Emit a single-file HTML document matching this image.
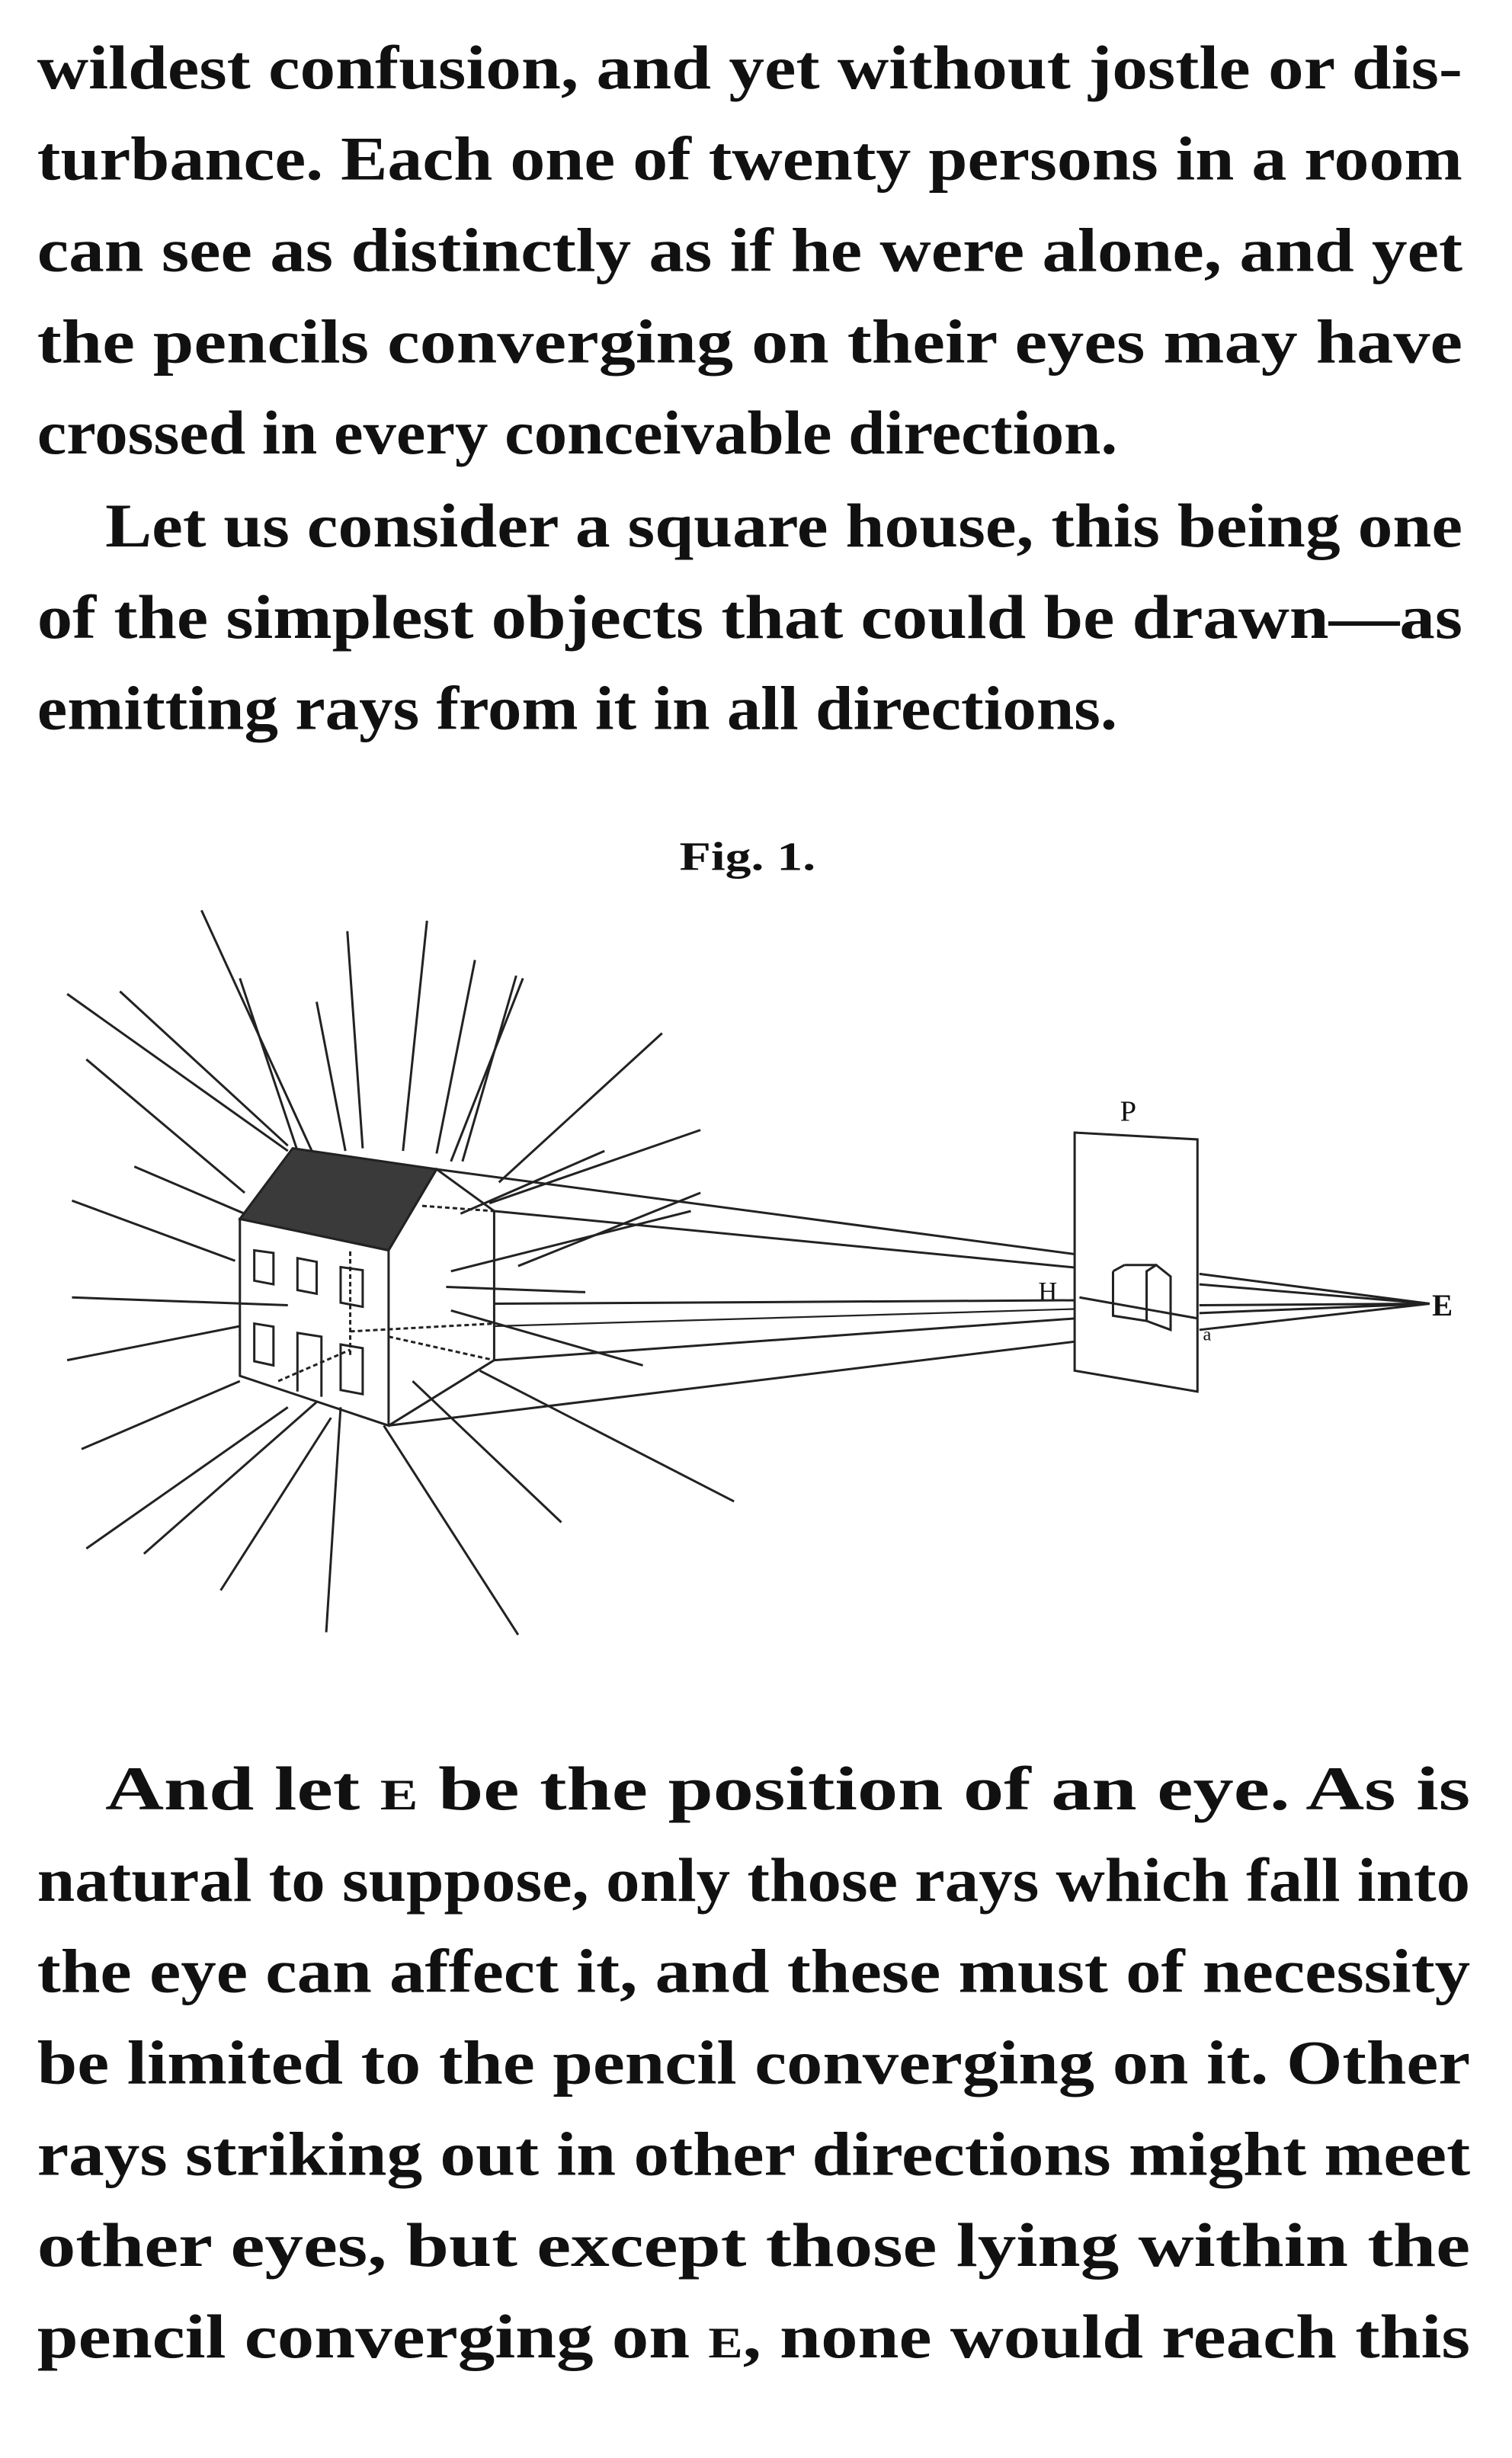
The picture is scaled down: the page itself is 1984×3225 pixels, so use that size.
<!DOCTYPE html>
<html><head><meta charset="utf-8"><style>
html,body{margin:0;padding:0;background:#fff;width:1984px;height:3225px;overflow:hidden}
svg{display:block}
text{font-family:"Liberation Serif",serif;font-weight:bold;fill:#111}
.f line,.f polyline,.f polygon,.f rect{vector-effect:non-scaling-stroke;stroke:#222;stroke-width:3;fill:none}
.f .d{stroke-dasharray:6 4}
.f .t{stroke-width:2.2}
</style></head><body>
<svg width="1984" height="3225" viewBox="0 0 977 1588" xmlns="http://www.w3.org/2000/svg">
<g font-size="40">
<text x="24" y="57" textLength="921" lengthAdjust="spacingAndGlyphs">wildest  confusion, and  yet without  jostle  or  dis-</text>
<text x="24" y="116" textLength="921" lengthAdjust="spacingAndGlyphs">turbance.   Each one of twenty persons  in a room</text>
<text x="24" y="175" textLength="921" lengthAdjust="spacingAndGlyphs">can see as distinctly as if  he were  alone, and  yet</text>
<text x="24" y="234" textLength="921" lengthAdjust="spacingAndGlyphs">the  pencils  converging  on  their  eyes  may  have</text>
<text x="24" y="293" textLength="698" lengthAdjust="spacingAndGlyphs">crossed in every conceivable direction.</text>
<text x="68" y="353" textLength="877" lengthAdjust="spacingAndGlyphs">Let us  consider a  square  house, this  being  one</text>
<text x="24" y="412" textLength="921" lengthAdjust="spacingAndGlyphs">of  the simplest  objects  that  could  be  drawn—as</text>
<text x="24" y="471" textLength="698" lengthAdjust="spacingAndGlyphs">emitting rays from it in all directions.</text>

<text x="68" y="1169" textLength="882" lengthAdjust="spacingAndGlyphs">And  let  <tspan font-size="28">E</tspan>  be  the  position  of  an  eye.   As  is</text>
<text x="24" y="1228" textLength="926" lengthAdjust="spacingAndGlyphs">natural to suppose, only those rays which fall into</text>
<text x="24" y="1287" textLength="926" lengthAdjust="spacingAndGlyphs">the eye can affect it, and  these  must  of  necessity</text>
<text x="24" y="1346" textLength="926" lengthAdjust="spacingAndGlyphs">be limited to the pencil  converging  on  it.   Other</text>
<text x="24" y="1405" textLength="926" lengthAdjust="spacingAndGlyphs">rays striking  out  in  other  directions  might  meet</text>
<text x="24" y="1464" textLength="926" lengthAdjust="spacingAndGlyphs">other  eyes,  but  except  those  lying  within  the</text>
<text x="24" y="1523" textLength="926" lengthAdjust="spacingAndGlyphs">pencil  converging  on  <tspan font-size="28">E</tspan>,  none  would  reach  this</text>
</g>
<text x="483" y="562" font-size="26" text-anchor="middle" textLength="88" lengthAdjust="spacingAndGlyphs">Fig. 1.</text>
<text x="729" y="724" font-size="19" text-anchor="middle" style="font-weight:normal">P</text>
<text x="677" y="840" font-size="17" text-anchor="middle" style="font-weight:normal">H</text>
<text x="720" y="838" font-size="12" text-anchor="middle" style="font-weight:normal">c</text>
<text x="780" y="866" font-size="12" text-anchor="middle" style="font-weight:normal">a</text>
<text x="932" y="850" font-size="20" text-anchor="middle">E</text>

<g class="f" transform="matrix(0.62 0 0 0.338 0 534)">
<g class="t">
<line x1="210" y1="160" x2="330" y2="640"/>
<line x1="250" y1="290" x2="310" y2="620"/>
<line x1="330" y1="335" x2="360" y2="620"/>
<line x1="362" y1="200" x2="378" y2="615"/>
<line x1="445" y1="180" x2="420" y2="620"/>
<line x1="495" y1="255" x2="455" y2="625"/>
<line x1="545" y1="290" x2="470" y2="640"/>
<line x1="538" y1="285" x2="482" y2="640"/>
<line x1="690" y1="395" x2="520" y2="680"/>
<line x1="730" y1="580" x2="510" y2="720"/>
<line x1="630" y1="620" x2="480" y2="740"/>
<line x1="70" y1="320" x2="300" y2="620"/>
<line x1="125" y1="315" x2="300" y2="610"/>
<line x1="90" y1="445" x2="255" y2="700"/>
<line x1="140" y1="650" x2="255" y2="740"/>
<line x1="75" y1="715" x2="245" y2="830"/>
<line x1="75" y1="900" x2="300" y2="915"/>
<line x1="70" y1="1020" x2="250" y2="955"/>
<line x1="85" y1="1190" x2="250" y2="1060"/>
<line x1="90" y1="1380" x2="300" y2="1110"/>
<line x1="150" y1="1390" x2="330" y2="1100"/>
<line x1="230" y1="1460" x2="345" y2="1130"/>
<line x1="340" y1="1540" x2="355" y2="1110"/>
<line x1="540" y1="1545" x2="400" y2="1145"/>
<line x1="585" y1="1330" x2="430" y2="1060"/>
<line x1="765" y1="1290" x2="500" y2="1040"/>
<line x1="670" y1="1030" x2="470" y2="925"/>
<line x1="465" y1="880" x2="610" y2="890"/>
<line x1="470" y1="850" x2="720" y2="735"/>
<line x1="540" y1="840" x2="730" y2="700"/>
</g>
<polygon points="305,615 455,655 405,810 250,750" style="fill:#3a3a3a"/>
<polyline points="405,810 455,655 515,735 515,1020 405,1145"/>
<polygon points="250,750 405,810 405,1145 250,1050"/>
<polygon points="265,810 285,815 285,875 265,868"/>
<polygon points="310,825 330,832 330,893 310,886"/>
<polygon points="355,842 378,848 378,918 355,910"/>
<polygon points="265,950 285,956 285,1030 265,1022"/>
<polyline points="310,1080 310,968 335,975 335,1090"/>
<polygon points="355,990 378,997 378,1085 355,1077"/>
<line class="d" x1="365" y1="812" x2="365" y2="1010"/>
<line class="d" x1="440" y1="725" x2="515" y2="735"/>
<line class="d" x1="365" y1="965" x2="515" y2="950"/>
<line class="d" x1="405" y1="975" x2="515" y2="1020"/>
<line class="d" x1="290" y1="1060" x2="365" y2="1000"/>
<line x1="455" y1="655" x2="1205" y2="838"/>
<line x1="515" y1="735" x2="1160" y2="850"/>
<line x1="515" y1="912" x2="1160" y2="905"/>
<line x1="515" y1="1020" x2="1160" y2="935"/>
<line x1="405" y1="1145" x2="1220" y2="962"/>
<line class="t" x1="515" y1="955" x2="1160" y2="920"/>
<polygon points="1120,585 1248,598 1248,1080 1120,1040" style="fill:#fff"/>
<polyline points="1160,850 1160,935 1195,945 1195,850 1205,838 1220,860 1220,962 1195,945"/>
<line x1="1160" y1="850" x2="1172" y2="838"/>
<line x1="1172" y1="838" x2="1205" y2="838"/>
<line x1="1125" y1="900" x2="1248" y2="940"/>
<line x1="1250" y1="855" x2="1490" y2="912"/>
<line x1="1250" y1="875" x2="1490" y2="912"/>
<line x1="1250" y1="915" x2="1490" y2="912"/>
<line x1="1250" y1="930" x2="1490" y2="912"/>
<line x1="1250" y1="962" x2="1490" y2="912"/>
</g>
</svg>
</body></html>
